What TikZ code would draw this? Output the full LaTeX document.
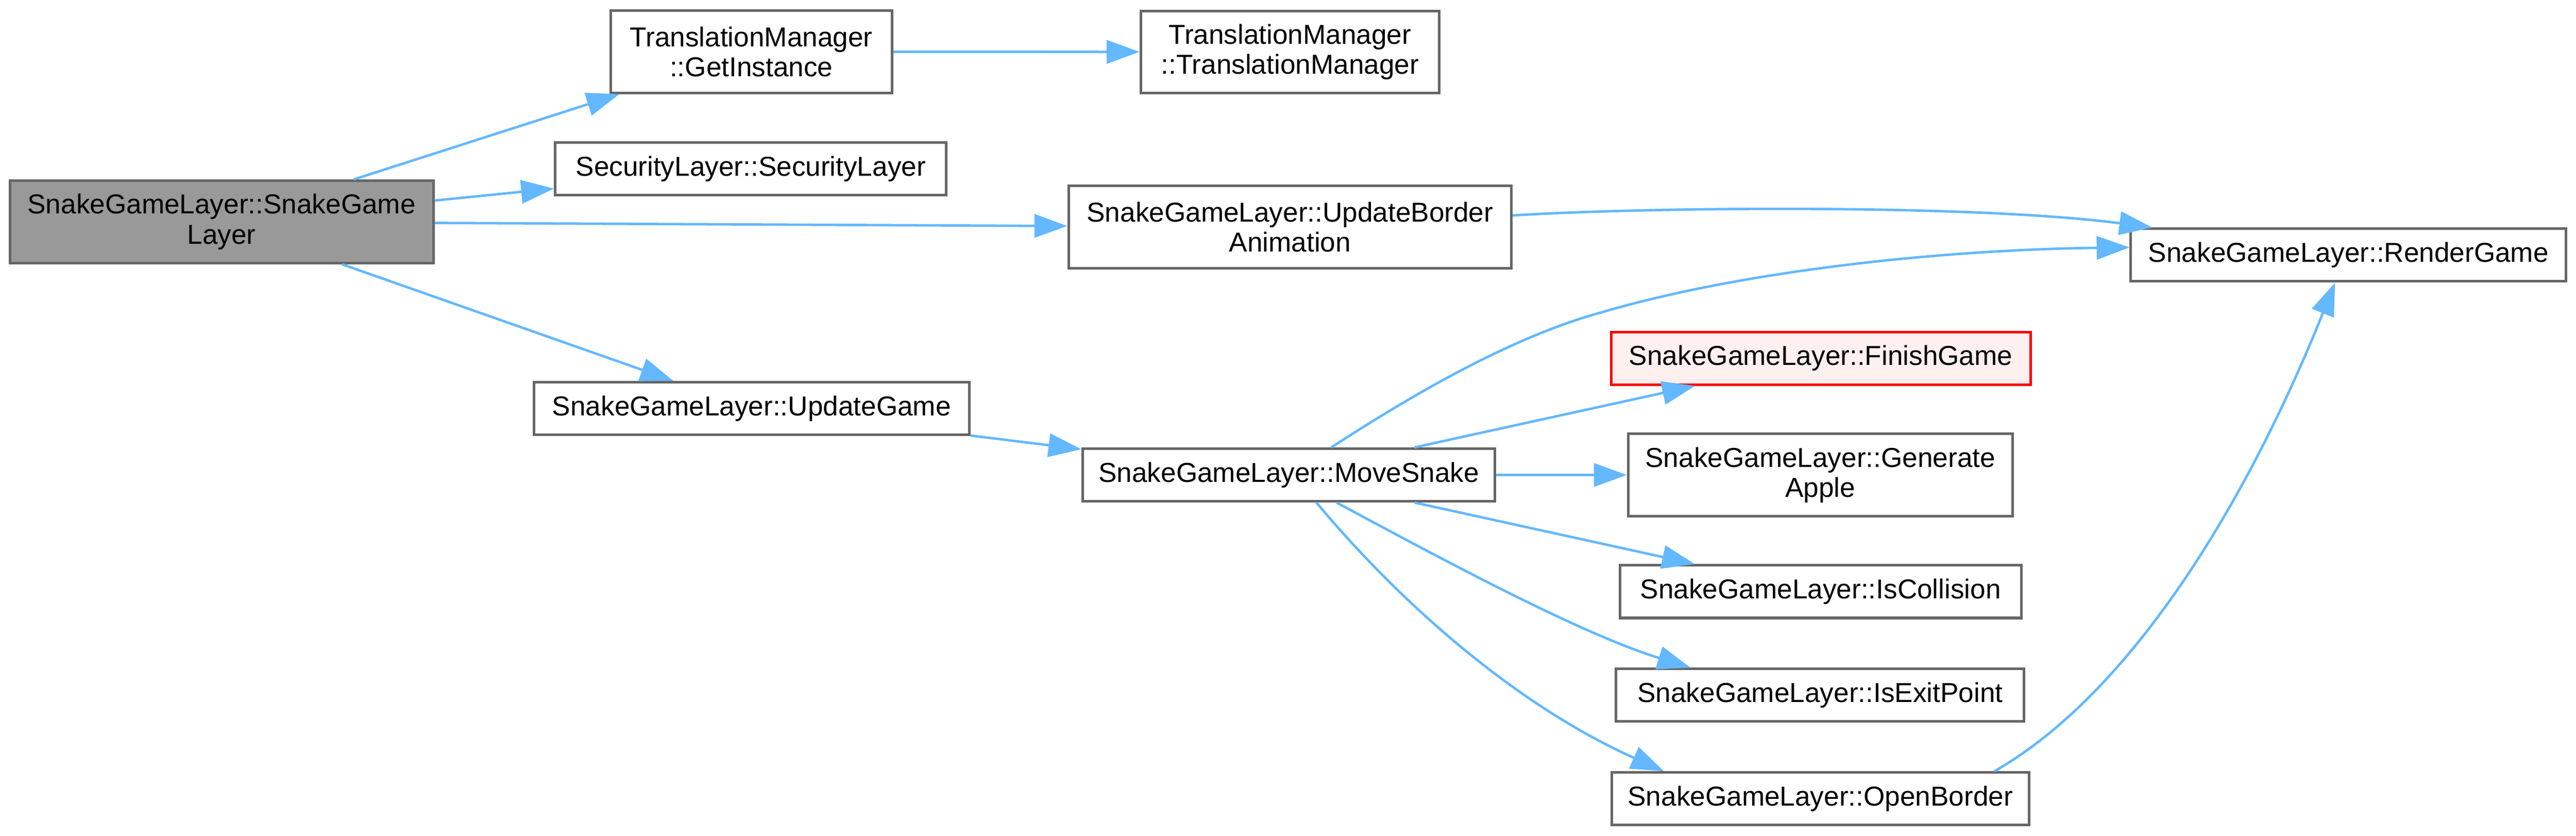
\documentclass[tikz,border=0pt]{standalone}
\usepackage{fontspec}
\setmainfont{Liberation Sans}
\usetikzlibrary{arrows.meta}
\definecolor{edgeblue}{HTML}{63B8FF}
\definecolor{boxgray}{HTML}{666666}
\definecolor{focusfill}{HTML}{999999}
\definecolor{errfill}{HTML}{FFF0F0}

\begin{document}
\begin{tikzpicture}[
    x=0.6pt, y=-0.6pt,
    fn/.style={rectangle, draw=boxgray, line width=0.95pt, fill=white, inner sep=0pt,
        align=center, font=\fontsize{10}{11}\selectfont, minimum height=19.2pt},
    two/.style={minimum height=30pt},
    focus/.style={fn, two, fill=focusfill},
    failed/.style={fn, draw=red, fill=errfill},
    call/.style={draw=edgeblue, line width=0.9pt, -{Triangle[length=12pt, width=8.5pt]}},
    ]
    \useasboundingbox (0,0) rectangle (1568,508.6);

    \node (root) [focus, minimum width=154.7pt] at (134.9,135) {SnakeGameLayer::SnakeGame\\Layer};
    \node (get-inst) [fn, two, minimum width=102.8pt] at (457.3,31.5) {TranslationManager\\::GetInstance};
    \node (tm-ctor) [fn, two, minimum width=108.9pt] at (785.2,31.6) {TranslationManager\\::TranslationManager};
    \node (sec-ctor) [fn, minimum width=142.8pt] at (457,102.7) {SecurityLayer::SecurityLayer};
    \node (upd-border) [fn, two, minimum width=161.7pt] at (785.2,138.2) {SnakeGameLayer::UpdateBorder\\Animation};
    \node (render) [fn, minimum width=159pt] at (1429.5,155.2) {SnakeGameLayer::RenderGame};
    \node (upd-game) [fn, minimum width=159pt] at (457.5,248.5) {SnakeGameLayer::UpdateGame};
    \node (move) [fn, minimum width=150.6pt] at (784.5,289) {SnakeGameLayer::MoveSnake};
    \node (finish) [failed, minimum width=153.2pt] at (1108.3,218) {SnakeGameLayer::FinishGame};
    \node (apple) [fn, two, minimum width=140.4pt] at (1108,289) {SnakeGameLayer::Generate\\Apple};
    \node (collide) [fn, minimum width=146.7pt] at (1108.2,360) {SnakeGameLayer::IsCollision};
    \node (exit-pt) [fn, minimum width=149pt] at (1107.9,423) {SnakeGameLayer::IsExitPoint};
    \node (open) [fn, minimum width=152.4pt] at (1108,486) {SnakeGameLayer::OpenBorder};

    \foreach \a/\b in {root/get-inst, root/sec-ctor, root/upd-border, root/upd-game,
        get-inst/tm-ctor, upd-game/move, move/finish, move/apple, move/collide} {
        \draw [call] (\a) to (\b);
    }

    \draw [call] (upd-border.3) .. controls (1000,126) and (1200,124) .. (render.172);
    \draw [call] (move.33) .. controls (860,240) and (920,205) .. (975,190)
        .. controls (1060,165) and (1180,152) .. (render.178);
    \draw [call] (move.-30) .. controls (870,336) and (960,385) .. (exit-pt.168);
    \draw [call] (move.-45) .. controls (855,370) and (925,430) .. (open.170);
    \draw [call] (open.9) .. controls (1300,420) and (1370,300) .. (render.-116);
\end{tikzpicture}
\end{document}
